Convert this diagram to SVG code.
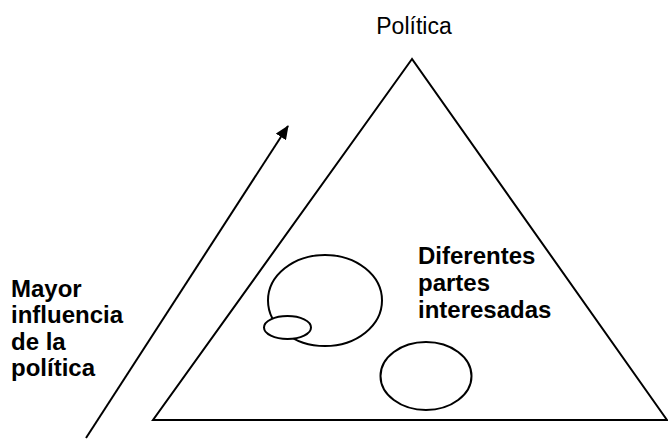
<svg xmlns="http://www.w3.org/2000/svg" width="668" height="440" viewBox="0 0 668 440">
<defs>
<style>
.ln{fill:none;stroke:#000;stroke-width:2}
.sh{fill:#fff;stroke:#000;stroke-width:2}
.t{font-family:"Liberation Sans",Arial,sans-serif;font-size:23px;fill:#000}
.b{font-weight:bold;font-size:24px}
</style>
<marker id="ah" viewBox="0 0 14 12" refX="13" refY="6" markerWidth="14" markerHeight="12" markerUnits="userSpaceOnUse" orient="auto">
<path d="M0,0 L14,6 L0,12 z" fill="#000"/>
</marker>
</defs>
<rect width="668" height="440" fill="#fff"/>
<g id="triangle">
<polygon class="ln" points="412,59 153,420 667,420"/>
</g>
<g id="politica-label">
<text class="t" x="414" y="34" text-anchor="middle">Política</text>
</g>
<g id="stakeholder-large">
<ellipse class="sh" cx="325" cy="300.5" rx="57" ry="45.5"/>
</g>
<g id="stakeholder-small">
<ellipse class="sh" cx="287.5" cy="327.5" rx="23.5" ry="11.5"/>
</g>
<g id="stakeholder-bottom">
<ellipse class="sh" cx="426" cy="376" rx="45.5" ry="34"/>
</g>
<g id="stakeholders-label">
<text class="t b" x="418" y="264">Diferentes</text>
<text class="t b" x="418" y="291">partes</text>
<text class="t b" x="418" y="318">interesadas</text>
</g>
<g id="influence-label">
<text class="t b" x="11" y="297">Mayor</text>
<text class="t b" x="11" y="323">influencia</text>
<text class="t b" x="11" y="350">de la</text>
<text class="t b" x="11" y="376">política</text>
</g>
<g id="connectors">
<line class="ln" x1="86" y1="438" x2="288" y2="126" marker-end="url(#ah)" stroke-width="1.5"/>
</g>
</svg>
